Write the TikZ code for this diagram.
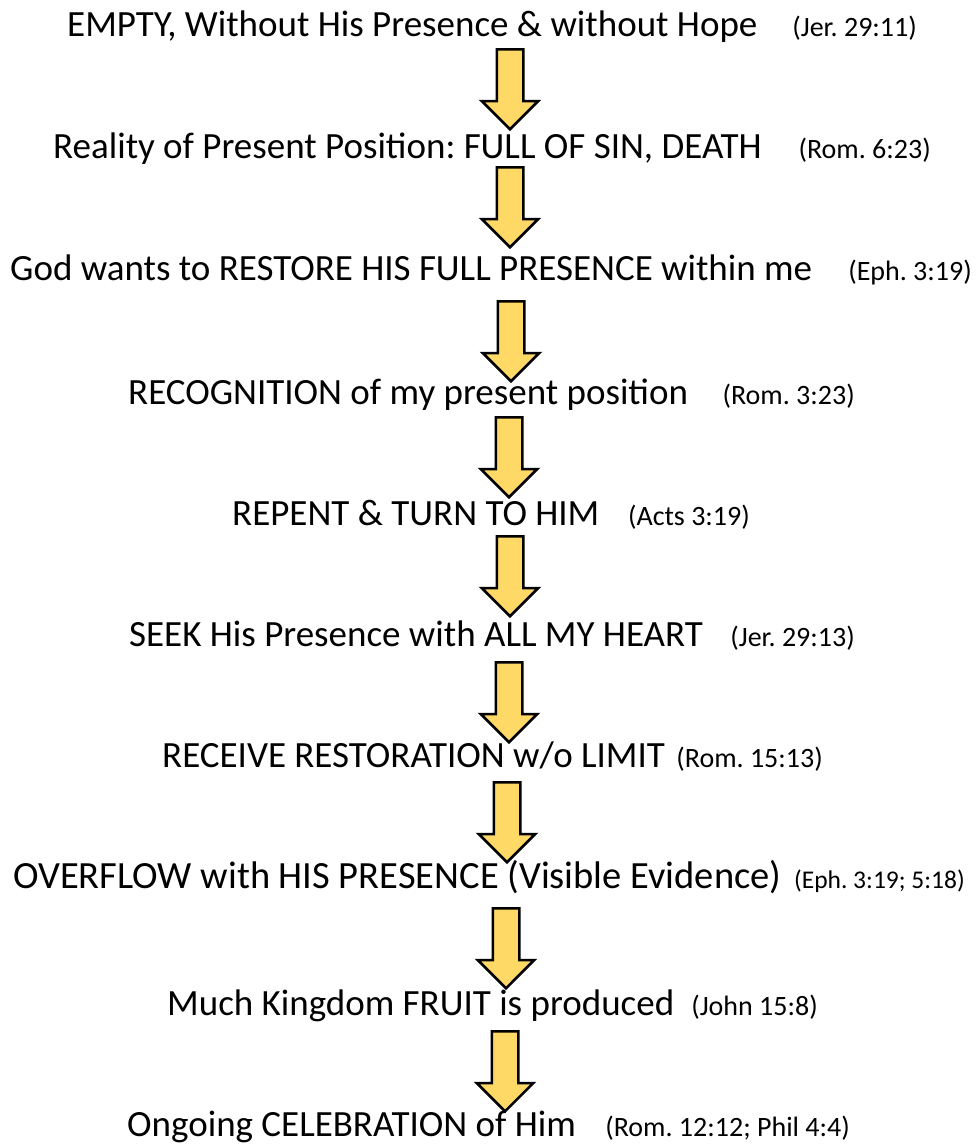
\documentclass[tikz,border=0pt]{standalone}
\usepackage{fontspec}
\setmainfont{Carlito}
\usepackage{xcolor}
\usepackage{tikz}
\usetikzlibrary{shapes.arrows}
\definecolor{arrowgold}{HTML}{FFD966}
\frenchspacing

\begin{document}
\begin{tikzpicture}[x=1pt, y=-1pt,
    steptext/.style={anchor=base west, inner sep=0pt, font=\fontsize{37}{40}\selectfont},
    reftext/.style={anchor=base east, inner sep=0pt, font=\fontsize{28}{30}\selectfont},
    downarrow/.style={single arrow, draw=black, line width=2.5pt, fill=arrowgold,
      rotate=-90, anchor=tail, inner xsep=0pt, inner ysep=12pt, minimum height=80pt,
      single arrow head extend=15pt}]
        \useasboundingbox (0,0) rectangle (977,1144);                                    %
        \node [steptext] (s1)  at (67,36)    {EMPTY, Without His Presence \& without Hope};%
        \node [reftext]  (r1)  at (917,36)   {(Jer. 29:11)};                               %
        \node [downarrow] (a1) at (510,48)   {};                                           %
        \node [steptext] (s2)  at (53,158)   {Reality of Present Position: FULL OF SIN, DEATH};%
        \node [reftext]  (r2)  at (931,158)  {(Rom. 6:23)};                                %
        \node [downarrow] (a2) at (510,166)  {};                                           %
        \node [steptext] (s3)  at (10,280)   {God wants to RESTORE HIS FULL PRESENCE within me};%
        \node [reftext]  (r3)  at (972,280)  {(Eph. 3:19)};                                %
        \node [downarrow] (a3) at (511,300)  {};                                           %
        \node [steptext] (s4)  at (128,404)  {RECOGNITION of my present position};         %
        \node [reftext]  (r4)  at (855,404)  {(Rom. 3:23)};                                %
        \node [downarrow] (a4) at (509,416)  {};                                           %
        \node [steptext] (s5)  at (232,525)  {REPENT \& TURN TO HIM};                      %
        \node [reftext]  (r5)  at (750,525)  {(Acts 3:19)};                                %
        \node [downarrow] (a5) at (510,535)  {};                                           %
        \node [steptext] (s6)  at (129,646)  {SEEK His Presence with ALL MY HEART};        %
        \node [reftext]  (r6)  at (855,646)  {(Jer. 29:13)};                               %
        \node [downarrow] (a6) at (509,661)  {};                                           %
        \node [steptext] (s7)  at (162,767)  {RECEIVE RESTORATION w/o LIMIT};              %
        \node [reftext]  (r7)  at (823,767)  {(Rom. 15:13)};                               %
        \node [downarrow] (a7) at (507,781)  {};                                           %
        \node [steptext, font=\fontsize{38.5}{40}\selectfont]
                         (s8)  at (13,888)   {OVERFLOW with HIS PRESENCE (Visible Evidence)};%
        \node [reftext, font=\fontsize{25.5}{30}\selectfont]
                         (r8)  at (965,888)  {(Eph. 3:19; 5:18)};                          %
        \node [downarrow] (a8) at (506,907)  {};                                           %
        \node [steptext] (s9)  at (167,1015) {Much Kingdom FRUIT is produced};             %
        \node [reftext]  (r9)  at (818,1015) {(John 15:8)};                                %
        \node [downarrow] (a9) at (505,1030) {};                                           %
        \node [steptext] (s10) at (127,1136) {Ongoing CELEBRATION of Him};                 %
        \node [reftext]  (r10) at (850,1136) {(Rom. 12:12; Phil 4:4)};                     %
\end{tikzpicture}
\end{document}
